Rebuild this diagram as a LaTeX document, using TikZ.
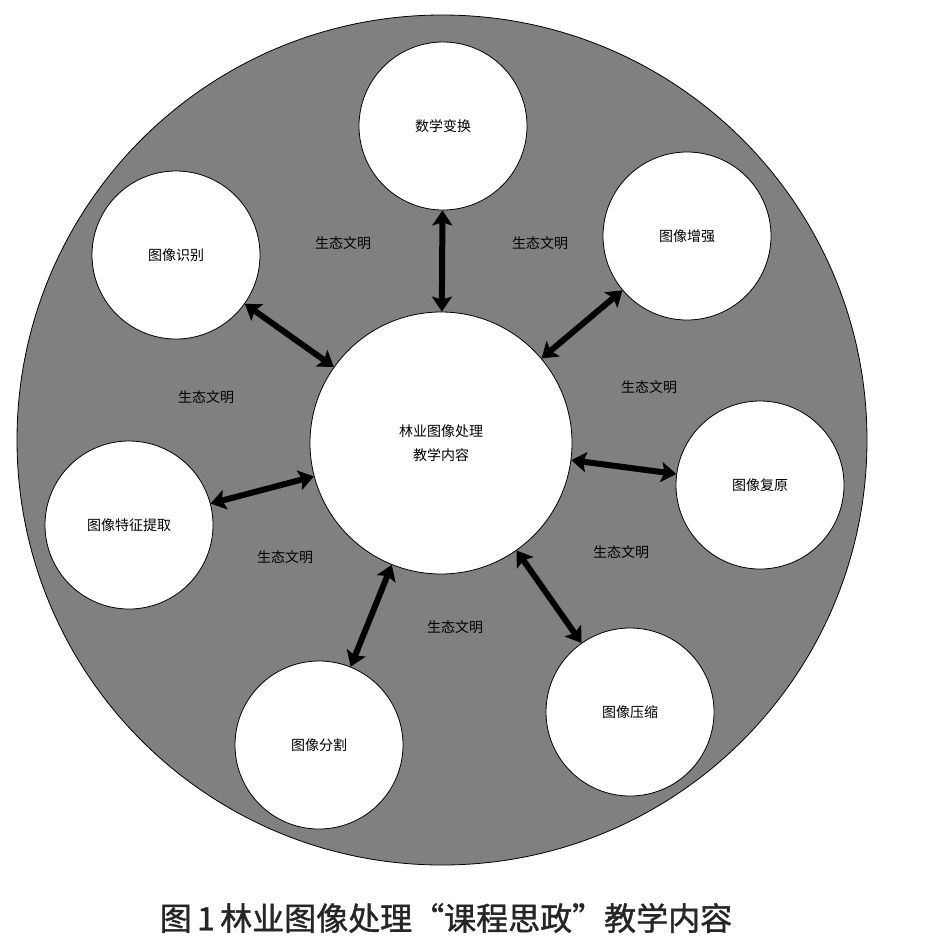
\documentclass[tikz,border=0pt]{standalone}
\usepackage{fontspec}
\newfontfamily\cjk{Noto Sans CJK SC}
\newfontfamily\cjkcap[FakeBold=1.2]{Noto Sans CJK SC}
\usetikzlibrary{arrows.meta}
\definecolor{ringgray}{RGB}{128,128,128}

\begin{document}
\begin{tikzpicture}[
  x=1pt, y=-1pt,
  sat/.style={circle, draw, fill=white, line width=0.8pt, minimum size=168pt,
              inner sep=0pt, align=center, font=\cjk\fontsize{14}{24}\selectfont},
  hub/.style={circle, draw, fill=white, line width=0.8pt, minimum size=262pt,
              inner sep=0pt, align=center, font=\cjk\fontsize{14}{24}\selectfont},
  lbl/.style={font=\cjk\fontsize{14}{16}\selectfont},
  arr/.style={{Stealth[length=15pt,width=20pt,inset=3pt]}-{Stealth[length=15pt,width=20pt,inset=3pt]},
              line width=6pt},
]
\useasboundingbox (0,0) rectangle (932,951);
\fill[white] (0,0) rectangle (932,951);
\draw[fill=ringgray, line width=0.8pt] (442,440) circle[radius=425];

\node[hub] (hub) at (441,443) {林业图像处理\\教学内容};
\node[sat] (shuxue) at (443,126) {数学变换};
\node[sat] (zengqiang) at (687,236) {图像增强};
\node[sat] (shibie) at (176,255) {图像识别};
\node[sat] (fuyuan) at (760,485) {图像复原};
\node[sat] (tezheng) at (129,525) {图像特征提取};
\node[sat] (yasuo) at (630,712) {图像压缩};
\node[sat] (fenge) at (319,745) {图像分割};

\draw[arr] (hub) -- (shuxue);
\draw[arr] (hub) -- (zengqiang);
\draw[arr] (hub) -- (shibie);
\draw[arr] (hub) -- (fuyuan);
\draw[arr] (hub) -- (tezheng);
\draw[arr] (hub) -- (yasuo);
\draw[arr] (hub) -- (fenge);

\node[lbl] (eco1) at (343,243) {生态文明};
\node[lbl] (eco2) at (540,243) {生态文明};
\node[lbl] (eco3) at (206,397) {生态文明};
\node[lbl] (eco4) at (649,387) {生态文明};
\node[lbl] (eco5) at (285,557) {生态文明};
\node[lbl] (eco6) at (621,552) {生态文明};
\node[lbl] (eco7) at (455,627) {生态文明};

\node[font=\cjkcap\fontsize{32}{36}\selectfont, text=black!85] (caption) at (446,918)
  {图\,1\,林业图像处理“课程思政”教学内容};
\end{tikzpicture}
\end{document}
